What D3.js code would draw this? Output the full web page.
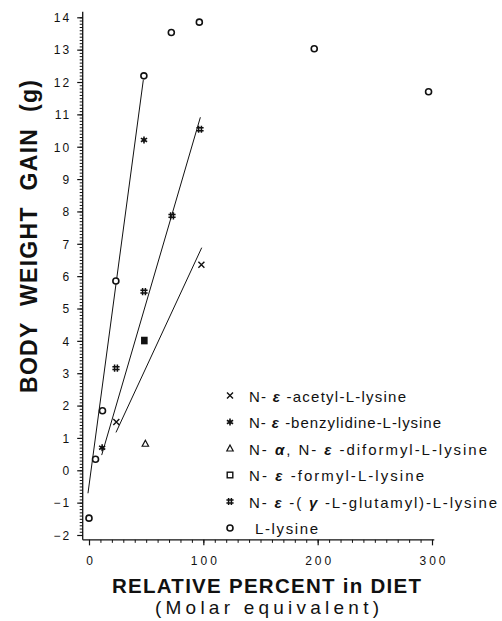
<!DOCTYPE html>
<html>
<head>
<meta charset="utf-8">
<script src="https://cdn.jsdelivr.net/npm/d3@7"></script>
<style>
  html, body { margin: 0; padding: 0; background: #fff; }
  svg { display: block; }
  text { font-family: "Liberation Sans", Arial, sans-serif; fill: #111; }
</style>
</head>
<body>
<svg id="chart" width="502" height="621"></svg>
<script>
// Body weight gain versus relative percent of lysine derivative in the diet

// Axis ticks
const xTicks = [0, 100, 200, 300];
const xTickLabels = ["0", "100", "200", "300"];
const yTicks = [-2, -1, 0, 1, 2, 3, 4, 5, 6, 7, 8, 9, 10, 11, 12, 13, 14];
const yTickLabels = ["\u22122", "\u22121", "0", "1", "2", "3", "4", "5", "6", "7", "8", "9", "10", "11", "12", "13", "14"];

// Observations (relative percent, weight gain in g)
const acetylX = [23.9, 98.3];
const acetylY = [1.49, 6.35];
const benzylidineX = [11.5, 48.1];
const benzylidineY = [0.70, 10.21];
const diformylX = [49.3];
const diformylY = [0.82];
const formylX = [48.4];
const formylY = [4.01];
const glutamylX = [23.6, 48.1, 72.6, 97.1];
const glutamylY = [3.16, 5.52, 7.86, 10.54];
const lysineX = [0, 5.7, 11.8, 23.5, 48, 72, 96.5, 197, 297];
const lysineY = [-1.48, 0.34, 1.84, 5.85, 12.19, 13.53, 13.85, 13.03, 11.7];

// Fitted response lines (end points)
const fitLysineX = [-0.9, 47.5];
const fitLysineY = [-0.71, 12.06];
const fitMiddleX = [11.1, 97.4];
const fitMiddleY = [0.47, 10.91];
const fitAcetylX = [23.6, 98.6];
const fitAcetylY = [1.17, 6.88];

// Legend
const legendKeys = ["acetyl", "benzylidine", "diformyl", "formyl", "glutamyl", "lysine"];
const legendLabels = [
  [["N- ", false], ["\u03b5", true], [" -acetyl-L-lysine", false]],
  [["N- ", false], ["\u03b5", true], [" -benzylidine-L-lysine", false]],
  [["N- ", false], ["\u03b1", true], [", N- ", false], ["\u03b5", true], [" -diformyl-L-lysine", false]],
  [["N- ", false], ["\u03b5", true], [" -formyl-L-lysine", false]],
  [["N- ", false], ["\u03b5", true], [" -( ", false], ["\u03b3", true], [" -L-glutamyl)-L-lysine", false]],
  [["L-lysine", false]]
];
const legendWidths = [157, 192, 238, 175, 248, 63];

const svg = d3.select("#chart");
const ink = "#111";

const x = d3.scaleLinear().domain([0, 300]).range([89, 432]);
const y = d3.scaleLinear().domain([-2, 14]).range([535, 17.3]);

const xLeft = x(-5.5), xRight = x(302);
const yTop = y(14.17), yBottom = y(-2.15);

// Axis lines
svg.append("line").attr("x1", xLeft).attr("x2", xLeft).attr("y1", yTop).attr("y2", yBottom)
  .attr("stroke", ink).attr("stroke-width", 1.3);
svg.append("line").attr("x1", xLeft).attr("x2", xRight).attr("y1", yBottom).attr("y2", yBottom)
  .attr("stroke", ink).attr("stroke-width", 1.3);

// Y axis: minor ticks every 0.1, major ticks with labels
const yMinor = d3.axisLeft(y).tickValues(d3.range(-20, 141).map(d => d / 10)).tickSize(3).tickFormat("");
const gyMinor = svg.append("g").attr("transform", `translate(${xLeft},0)`).call(yMinor);
gyMinor.select(".domain").remove();
gyMinor.selectAll("line").attr("stroke", ink).attr("stroke-width", 1);

const yMajor = d3.axisLeft(y).tickValues(yTicks).tickSize(5.5).tickPadding(6)
  .tickFormat((d, i) => yTickLabels[i]);
const gyMajor = svg.append("g").attr("transform", `translate(${xLeft},0)`).call(yMajor);
gyMajor.select(".domain").remove();
gyMajor.selectAll("line").attr("stroke", ink).attr("stroke-width", 1.2);
gyMajor.selectAll("text").attr("font-size", 12).attr("letter-spacing", 2)
  .attr("font-family", "Liberation Sans, Arial, sans-serif").attr("fill", ink).attr("dy", "0.36em");

// X axis: minor ticks every 10, major ticks with labels
const xMinor = d3.axisBottom(x).tickValues(d3.range(0, 301, 10)).tickSize(3).tickFormat("");
const gxMinor = svg.append("g").attr("transform", `translate(0,${yBottom})`).call(xMinor);
gxMinor.select(".domain").remove();
gxMinor.selectAll("line").attr("stroke", ink).attr("stroke-width", 1);

const xMajor = d3.axisBottom(x).tickValues(xTicks).tickSize(5.5).tickPadding(11)
  .tickFormat((d, i) => xTickLabels[i]);
const gxMajor = svg.append("g").attr("transform", `translate(0,${yBottom})`).call(xMajor);
gxMajor.select(".domain").remove();
gxMajor.selectAll("line").attr("stroke", ink).attr("stroke-width", 1.2);
gxMajor.selectAll("text").attr("font-size", 12).attr("letter-spacing", 3).attr("dx", 1.5)
  .attr("font-family", "Liberation Sans, Arial, sans-serif").attr("fill", ink);

// Fitted lines
const line = d3.line().x(d => x(d[0])).y(d => y(d[1]));
[[fitLysineX, fitLysineY], [fitMiddleX, fitMiddleY], [fitAcetylX, fitAcetylY]].forEach(([xs, ys]) => {
  svg.append("path").attr("d", line(d3.zip(xs, ys)))
    .attr("fill", "none").attr("stroke", ink).attr("stroke-width", 1);
});

// Marker drawing
function drawMarker(g, key, cx, cy, inPlot) {
  const m = g.append("g").attr("transform", `translate(${cx},${cy})`);
  if (key === "acetyl") {
    m.append("path").attr("d", "M-3,-3L3,3M-3,3L3,-3").attr("stroke", ink).attr("stroke-width", 1.4).attr("fill", "none");
  } else if (key === "benzylidine") {
    m.append("path").attr("d", "M0,-3.5L0,3.5M-3.1,-1.8L3.1,1.8M-3.1,1.8L3.1,-1.8")
      .attr("stroke", ink).attr("stroke-width", 1.6).attr("fill", "none");
    m.append("circle").attr("r", 1.6).attr("fill", ink);
  } else if (key === "diformyl") {
    m.append("path").attr("d", "M0,-3.5L3.2,2.5L-3.2,2.5Z").attr("stroke", ink).attr("stroke-width", 1.2).attr("fill", "#fff");
  } else if (key === "formyl") {
    if (inPlot) {
      m.append("rect").attr("x", -3.3).attr("y", -3.8).attr("width", 6.6).attr("height", 7.6).attr("fill", ink);
    } else {
      m.append("rect").attr("x", -2.8).attr("y", -2.8).attr("width", 5.6).attr("height", 5.6)
        .attr("fill", "#fff").attr("stroke", ink).attr("stroke-width", 1.4);
    }
  } else if (key === "glutamyl") {
    m.append("path").attr("d", "M-1.4,-3.6L-1.4,3.6M1.4,-3.6L1.4,3.6M-3.6,-1.4L3.6,-1.4M-3.6,1.4L3.6,1.4")
      .attr("stroke", ink).attr("stroke-width", 1.5).attr("fill", "none");
  } else if (key === "lysine") {
    m.append("circle").attr("r", 3).attr("fill", "#fff").attr("stroke", ink).attr("stroke-width", 1.6);
  }
}

const series = [
  ["acetyl", acetylX, acetylY],
  ["benzylidine", benzylidineX, benzylidineY],
  ["diformyl", diformylX, diformylY],
  ["formyl", formylX, formylY],
  ["glutamyl", glutamylX, glutamylY],
  ["lysine", lysineX, lysineY]
];
const gPts = svg.append("g");
series.forEach(([key, xs, ys]) => {
  xs.forEach((v, i) => drawMarker(gPts, key, x(v), y(ys[i]), true));
});

// Legend
const gLeg = svg.append("g");
legendKeys.forEach((key, i) => {
  const cy = 395.5 + i * 26.5;
  drawMarker(gLeg, key, 230, cy, false);
  const tx = key === "lysine" ? 255 : 249;
  const t = gLeg.append("text").attr("x", tx).attr("y", cy + 6)
    .attr("font-family", "DejaVu Sans, sans-serif")
    .attr("font-size", 15).attr("xml:space", "preserve")
    .attr("textLength", legendWidths[i]).attr("lengthAdjust", "spacing");
  legendLabels[i].forEach(([s, bold]) => {
    const ts = t.append("tspan").text(s);
    if (bold) ts.attr("font-weight", "bold").attr("font-style", "italic");
  });
});

// Axis titles
svg.append("text")
  .attr("transform", "translate(37,236.5) rotate(-90)")
  .attr("text-anchor", "middle").attr("font-weight", "bold").attr("font-size", 23)
  .attr("word-spacing", 8)
  .attr("textLength", 313).attr("lengthAdjust", "spacing")
  .text("BODY WEIGHT GAIN (g)");

svg.append("text").attr("x", 266.5).attr("y", 593)
  .attr("text-anchor", "middle").attr("font-weight", "bold").attr("font-size", 20.5)
  .attr("textLength", 309).attr("lengthAdjust", "spacing")
  .text("RELATIVE PERCENT in DIET");

svg.append("text").attr("x", 267).attr("y", 614)
  .attr("font-family", "DejaVu Sans, sans-serif")
  .attr("text-anchor", "middle").attr("font-size", 19)
  .attr("textLength", 224).attr("lengthAdjust", "spacing")
  .text("(Molar equivalent)");
</script>
</body>
</html>
